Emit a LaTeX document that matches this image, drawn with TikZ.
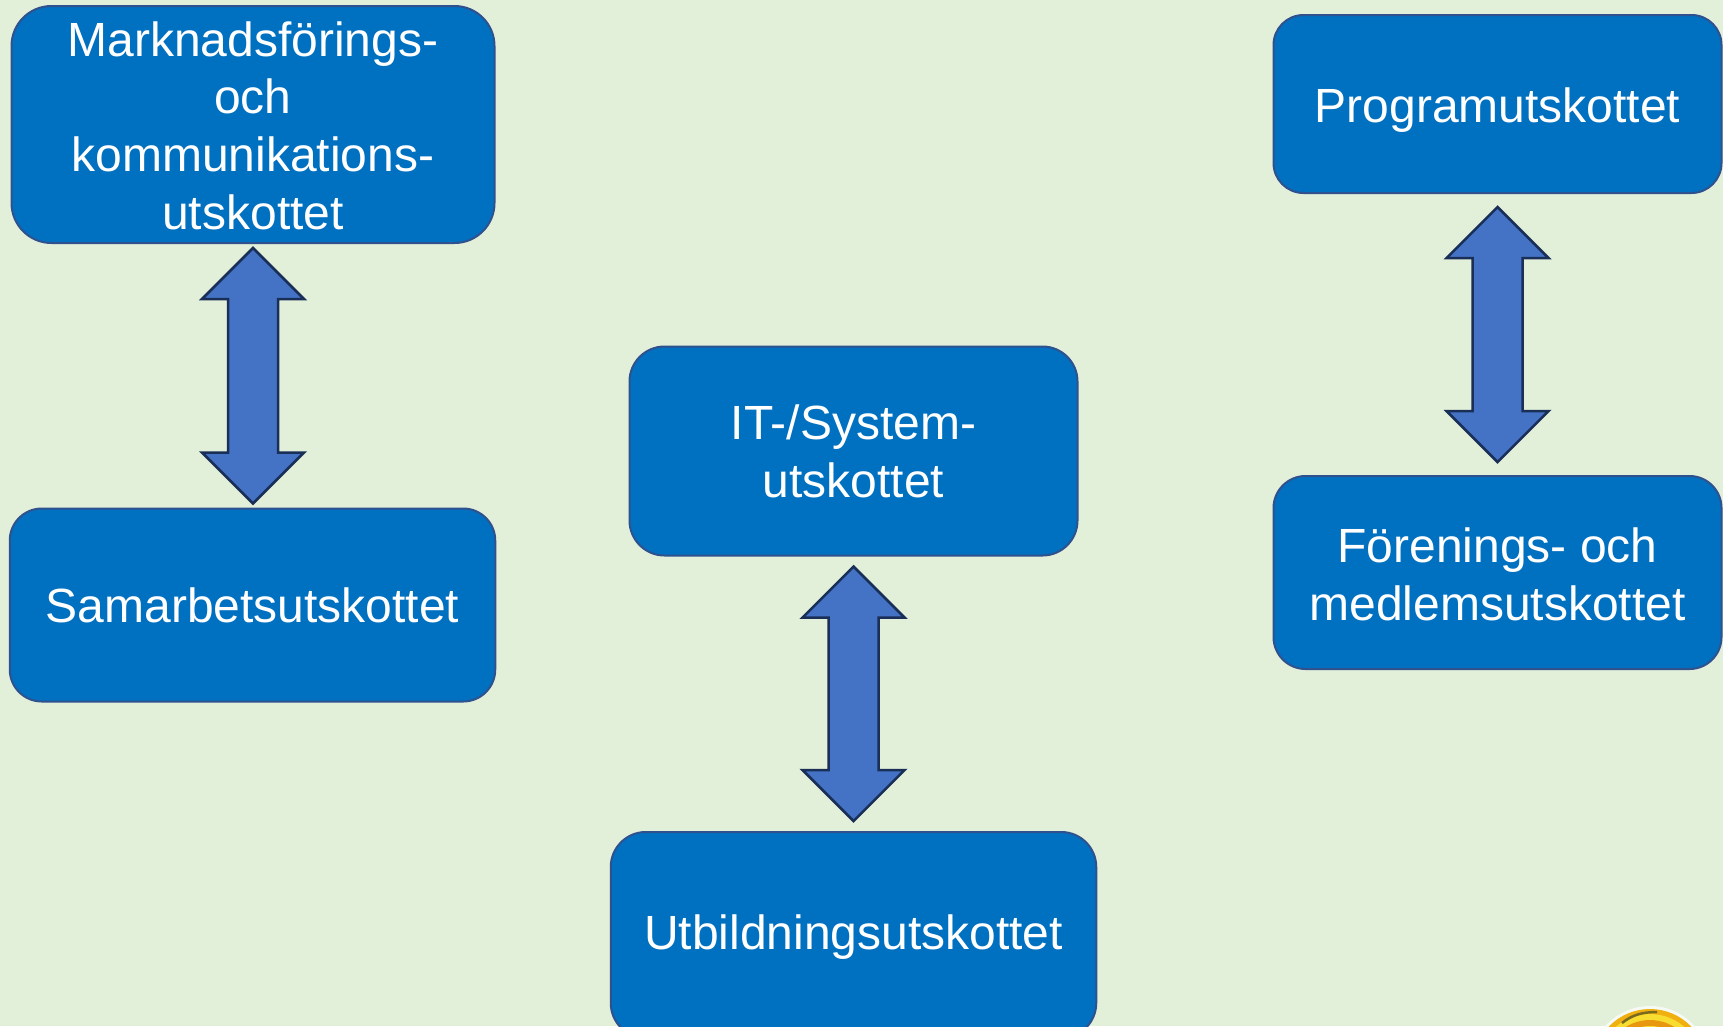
\documentclass[tikz,border=0pt]{standalone}
\usepackage{fontspec}
\setmainfont{Liberation Sans}
\usetikzlibrary{calc}
\definecolor{bgc}{HTML}{E2EFD9}
\definecolor{boxc}{HTML}{0070C0}
\definecolor{boxl}{HTML}{2F528F}
\definecolor{arrc}{HTML}{4472C4}
\definecolor{arrl}{HTML}{1A2F58}
\definecolor{gold}{HTML}{F0B010}
\definecolor{lemon}{HTML}{F8DC30}
\definecolor{amber}{HTML}{E89810}
\definecolor{swoosh}{HTML}{7A6A20}
\tikzset{
 box/.style={draw=boxl,line width=2pt,fill=boxc,text=white,align=center,inner sep=0pt,
   font=\fontsize{48pt}{57.7pt}\selectfont},
 dblarrow/.style={draw=arrl,line width=2.5pt,fill=arrc,line join=miter},
}
\newcommand\tdrop[1]{\rule{0pt}{#1pt}}
\newcommand\updown[3]{%
 \draw[dblarrow] let \p1=(#1.south),\p2=(#2.north) in
  (\x1,\y1-#3) -- (\x1+51pt,\y1-#3-51pt) -- (\x1+25pt,\y1-#3-51pt)
  -- (\x1+25pt,\y2+#3+51pt) -- (\x1+51pt,\y2+#3+51pt) -- (\x1,\y2+#3)
  -- (\x1-51pt,\y2+#3+51pt) -- (\x1-25pt,\y2+#3+51pt)
  -- (\x1-25pt,\y1-#3-51pt) -- (\x1-51pt,\y1-#3-51pt) -- cycle;}
\begin{document}
\begin{tikzpicture}[x=1pt,y=-1pt]
\useasboundingbox (0,0) rectangle (1723,1026);
\fill[bgc] (0,0) rectangle (1723,1026);
\begin{scope}
\clip (0,0) rectangle (1723,1026);
\node[box,rounded corners=40pt,minimum width=483pt,minimum height=237pt] (mk) at (253,124.5) {\tdrop{37}Marknadsförings-\\och\\kommunikations-\\utskottet};
\node[box,rounded corners=32pt,minimum width=485.5pt,minimum height=193pt] (sa) at (252.5,605) {\tdrop{36}Samarbetsutskottet};
\node[box,rounded corners=35pt,minimum width=448pt,minimum height=209pt] (it) at (853.5,451) {IT-/System-\\utskottet};
\node[box,rounded corners=35pt,minimum width=485.5pt,minimum height=206pt] (ut) at (853.5,935) {\tdrop{39}Utbildningsutskottet};
\node[box,rounded corners=30pt,minimum width=448pt,minimum height=178pt] (pr) at (1497.5,104) {\tdrop{46}Programutskottet};
\node[box,rounded corners=32pt,minimum width=448pt,minimum height=193pt] (fo) at (1497.5,572.5) {\tdrop{39}Förenings- och\\medlemsutskottet};
\updown{mk}{sa}{4pt}
\updown{it}{ut}{10pt}
\updown{pr}{fo}{13pt}
% logo edge
\fill[white!70!bgc] (1650,1066) circle (60);
\fill[gold] (1650,1066) circle (57);
\fill[lemon] (1650,1066) circle (52);
\fill[amber] (1650,1066) circle (46);
\fill[lemon] (1650,1066) circle (40);
\draw[swoosh,line width=2.5pt] (1622,1023) .. controls (1632,1015) and (1642,1012) .. (1657,1012);
\end{scope}
\end{tikzpicture}
\end{document}
